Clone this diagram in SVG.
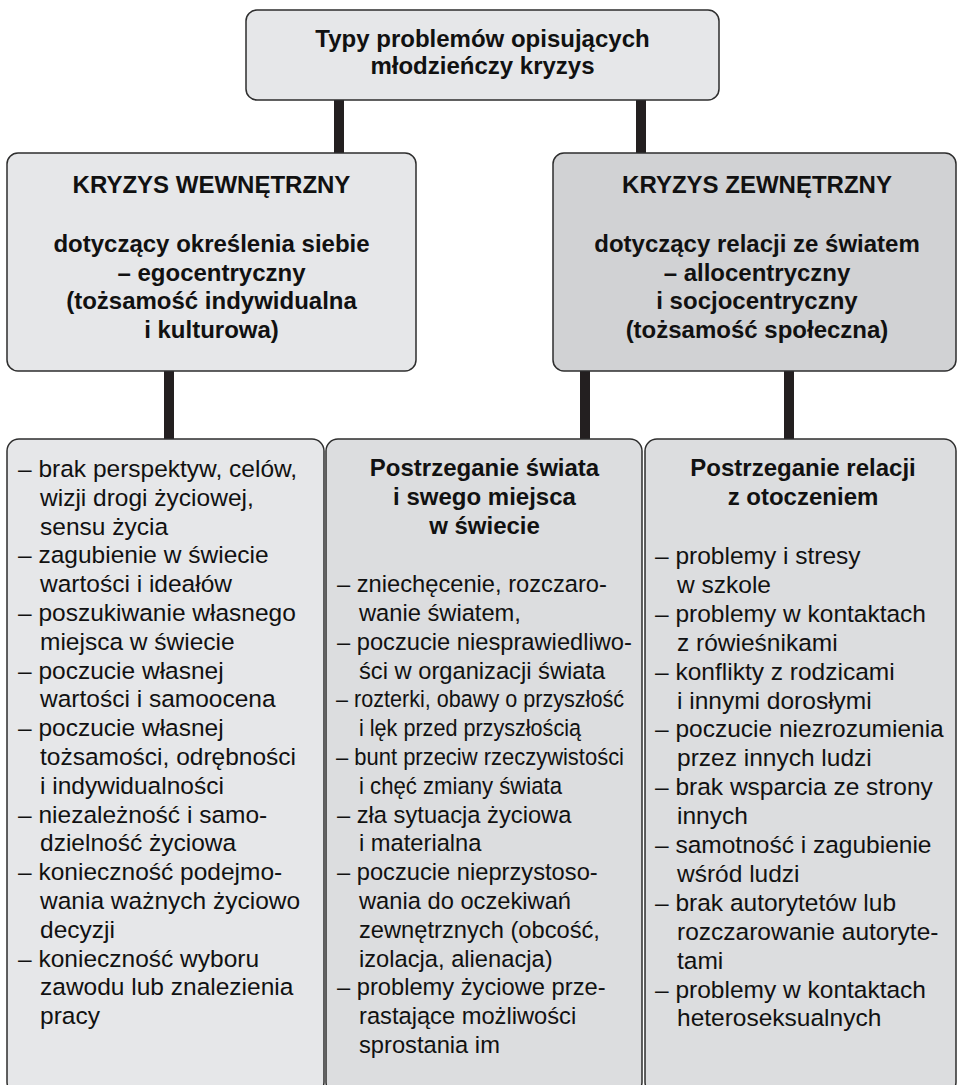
<svg xmlns="http://www.w3.org/2000/svg" width="957" height="1085" viewBox="0 0 957 1085">
<style>
.box{stroke:#2e2e2e;stroke-width:1.5}
.light{fill:#e6e7e9}
.mid{fill:#dcdddf}
.dark{fill:#d1d2d4}
.conn{stroke:#231f20;stroke-width:10;fill:none}
.h{font-family:"Liberation Sans",Arial,sans-serif;font-weight:bold;font-size:24px;fill:#111;text-anchor:middle}
.t{font-family:"Liberation Sans",Arial,sans-serif;font-size:24.5px;fill:#111}
.tm{font-size:23.7px}
</style>
<rect width="957" height="1085" fill="#ffffff"/>
<g id="connectors">
<line class="conn" x1="339" y1="100" x2="339" y2="154"/>
<line class="conn" x1="641" y1="100" x2="641" y2="154"/>
<line class="conn" x1="169" y1="371" x2="169" y2="440"/>
<line class="conn" x1="585" y1="371" x2="585" y2="440"/>
<line class="conn" x1="789" y1="371" x2="789" y2="440"/>
</g>
<g id="root">
<rect class="box light" x="246" y="10" width="473" height="90" rx="11"/>
<text class="h" x="482.5" y="47">Typy problemów opisujących</text>
<text class="h" x="482.5" y="74">młodzieńczy kryzys</text>
</g>
<g id="internal">
<rect class="box light" x="7" y="153" width="409" height="218" rx="11"/>
<text class="h" x="211.5" y="193">KRYZYS WEWNĘTRZNY</text>
<text class="h" x="211.5" y="252">dotyczący określenia siebie</text>
<text class="h" x="211.5" y="280.5">– egocentryczny</text>
<text class="h" x="211.5" y="309">(tożsamość indywidualna</text>
<text class="h" x="211.5" y="337.5">i kulturowa)</text>
</g>
<g id="external">
<rect class="box dark" x="553" y="153" width="403" height="218" rx="11"/>
<text class="h" x="757" y="193">KRYZYS ZEWNĘTRZNY</text>
<text class="h" x="757" y="252">dotyczący relacji ze światem</text>
<text class="h" x="757" y="280.5">– allocentryczny</text>
<text class="h" x="757" y="309">i socjocentryczny</text>
<text class="h" x="757" y="337.5">(tożsamość społeczna)</text>
</g>
<g id="internal-list">
<rect class="box light" x="7" y="439" width="317" height="655" rx="12"/>
<text class="t" x="18" y="477">– brak perspektyw, celów,</text>
<text class="t" x="40" y="505.8">wizji drogi życiowej,</text>
<text class="t" x="40" y="534.6">sensu życia</text>
<text class="t" x="18" y="563.4">– zagubienie w świecie</text>
<text class="t" x="40" y="592.2">wartości i ideałów</text>
<text class="t" x="18" y="621">– poszukiwanie własnego</text>
<text class="t" x="40" y="649.8">miejsca w świecie</text>
<text class="t" x="18" y="678.6">– poczucie własnej</text>
<text class="t" x="40" y="707.4">wartości i samoocena</text>
<text class="t" x="18" y="736.2">– poczucie własnej</text>
<text class="t" x="40" y="765">tożsamości, odrębności</text>
<text class="t" x="40" y="793.8">i indywidualności</text>
<text class="t" x="18" y="822.6">– niezależność i samo-</text>
<text class="t" x="40" y="851.4">dzielność życiowa</text>
<text class="t" x="18" y="880.2">– konieczność podejmo-</text>
<text class="t" x="40" y="909">wania ważnych życiowo</text>
<text class="t" x="40" y="937.8">decyzji</text>
<text class="t" x="18" y="966.6">– konieczność wyboru</text>
<text class="t" x="40" y="995.4">zawodu lub znalezienia</text>
<text class="t" x="40" y="1024.2">pracy</text>
</g>
<g id="world-list">
<rect class="box mid" x="326" y="439" width="316" height="655" rx="12"/>
<text class="h" x="484.5" y="476">Postrzeganie świata</text>
<text class="h" x="484.5" y="504.8">i swego miejsca</text>
<text class="h" x="484.5" y="533.6">w świecie</text>
<text class="t tm" x="337" y="592.2">– zniechęcenie, rozczaro-</text>
<text class="t tm" x="359" y="621">wanie światem,</text>
<text class="t tm" x="337" y="649.8">– poczucie niesprawiedliwo-</text>
<text class="t tm" x="359" y="678.6">ści w organizacji świata</text>
<text class="t tm" x="336" y="707.4" textLength="288" lengthAdjust="spacingAndGlyphs">– rozterki, obawy o przyszłość</text>
<text class="t tm" x="359" y="736.2" textLength="222" lengthAdjust="spacingAndGlyphs">i lęk przed przyszłością</text>
<text class="t tm" x="336" y="765" textLength="288" lengthAdjust="spacingAndGlyphs">– bunt przeciw rzeczywistości</text>
<text class="t tm" x="359" y="793.8" textLength="203" lengthAdjust="spacingAndGlyphs">i chęć zmiany świata</text>
<text class="t tm" x="337" y="822.6">– zła sytuacja życiowa</text>
<text class="t tm" x="359" y="851.4">i materialna</text>
<text class="t tm" x="337" y="880.2">– poczucie nieprzystoso-</text>
<text class="t tm" x="359" y="909">wania do oczekiwań</text>
<text class="t tm" x="359" y="937.8">zewnętrznych (obcość,</text>
<text class="t tm" x="359" y="966.6">izolacja, alienacja)</text>
<text class="t tm" x="337" y="995.4">– problemy życiowe prze-</text>
<text class="t tm" x="359" y="1024.2">rastające możliwości</text>
<text class="t tm" x="359" y="1053">sprostania im</text>
</g>
<g id="relations-list">
<rect class="box mid" x="645" y="439" width="311" height="655" rx="12"/>
<text class="h" x="803" y="476">Postrzeganie relacji</text>
<text class="h" x="803" y="504.8">z otoczeniem</text>
<text class="t" x="655" y="564">– problemy i stresy</text>
<text class="t" x="677" y="592.9">w szkole</text>
<text class="t" x="655" y="621.8">– problemy w kontaktach</text>
<text class="t" x="677" y="650.7">z rówieśnikami</text>
<text class="t" x="655" y="679.6">– konflikty z rodzicami</text>
<text class="t" x="677" y="708.5">i innymi dorosłymi</text>
<text class="t" x="655" y="737.4">– poczucie niezrozumienia</text>
<text class="t" x="677" y="766.3">przez innych ludzi</text>
<text class="t" x="655" y="795.2">– brak wsparcia ze strony</text>
<text class="t" x="677" y="824.1">innych</text>
<text class="t" x="655" y="853">– samotność i zagubienie</text>
<text class="t" x="677" y="881.9">wśród ludzi</text>
<text class="t" x="655" y="910.8">– brak autorytetów lub</text>
<text class="t" x="677" y="939.7">rozczarowanie autoryte-</text>
<text class="t" x="677" y="968.6">tami</text>
<text class="t" x="655" y="997.5">– problemy w kontaktach</text>
<text class="t" x="677" y="1026.4">heteroseksualnych</text>
</g>
</svg>
